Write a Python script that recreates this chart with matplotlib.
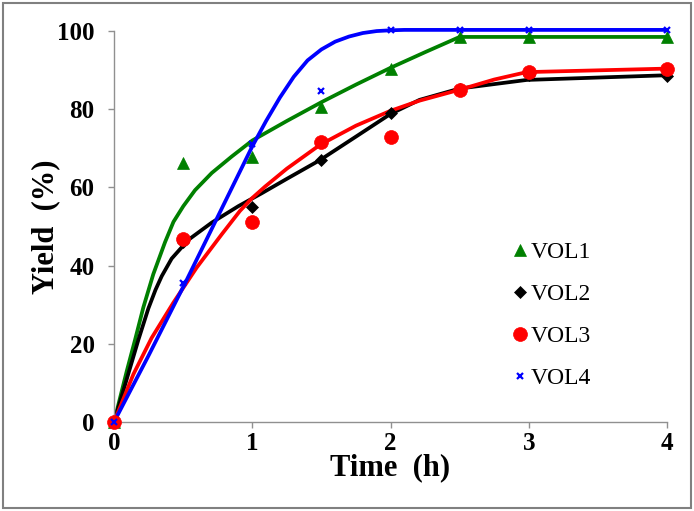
import matplotlib
matplotlib.use("Agg")
import matplotlib.pyplot as plt
from matplotlib.lines import Line2D
from matplotlib.patches import Rectangle

# measured points
t_pts = [0, 0.5, 1, 1.5, 2, 2.5, 3, 4]
vol1_pts = [0, 66.2, 67.9, 80.5, 90.2, 98.5, 98.5, 98.5]
vol2_pts = [0, 46.1, 55.1, 67.0, 79.0, 85.2, 88.7, 88.6]
vol3_pts = [0, 46.8, 51.1, 71.7, 72.8, 85.0, 89.6, 90.4]
vol4_pts = [0, 35.5, 71.0, 84.7, 100.2, 100.2, 100.2, 100.2]

# model curves
vol1_fit_t = [0, 0.092, 0.152, 0.212, 0.284, 0.369, 0.43, 0.501, 0.586, 0.707, 0.851,
              1.0, 1.25, 1.5, 1.75, 2.0, 2.25, 2.5, 3, 4]
vol1_fit_y = [0, 13.0, 21.0, 29.3, 37.8, 46.0, 51.2, 55.2, 59.3, 63.7, 67.9,
              72.0, 77.0, 81.8, 86.3, 90.6, 94.6, 98.5, 98.5, 98.5]
vol2_fit_t = [0, 0.104, 0.176, 0.248, 0.3, 0.345, 0.417, 0.538, 0.707, 0.899, 1.068,
              1.25, 1.49, 1.75, 2.0, 2.21, 2.5, 2.985, 4.0]
vol2_fit_y = [0, 12.4, 21.0, 29.0, 33.8, 37.3, 41.8, 46.6, 51.0, 55.2, 58.5,
              62.2, 67.0, 73.0, 78.8, 82.4, 85.3, 87.5, 88.7]
vol3_fit_t = [0, 0.14, 0.272, 0.429, 0.598, 0.779, 0.911, 1.0, 1.092, 1.25, 1.49,
              1.75, 2.0, 2.21, 2.5, 2.75, 2.985, 4.0]
vol3_fit_y = [0, 12.2, 21.5, 30.5, 39.5, 48.0, 54.0, 57.3, 60.2, 64.8, 70.9,
              75.8, 79.6, 82.2, 85.0, 87.6, 89.5, 90.4]
vol4_fit_t = [0, 0.25, 0.514, 0.75, 1.0, 1.1, 1.2, 1.3, 1.4, 1.5, 1.6, 1.7, 1.8, 1.9,
              2.0, 2.1, 4.0]
vol4_fit_y = [0, 17.0, 35.5, 52.5, 70.5, 77.0, 83.0, 88.3, 92.5, 95.3, 97.3, 98.6,
              99.5, 100.0, 100.2, 100.3, 100.3]

labels = ["VOL1", "VOL2", "VOL3", "VOL4"]
colors = ["#008000", "#000000", "#ff0000", "#0000ff"]
markers = ["^", "D", "o", "x"]
msizes = [9, 6.5, 10, 4]

plt.rcParams["font.family"] = ["Liberation Serif", "DejaVu Serif"]

fig = plt.figure(figsize=(6.94, 5.11), dpi=100)
ax = fig.add_axes([0.1643, 0.1742, 0.7968, 0.765])

fits = [(vol1_fit_t, vol1_fit_y), (vol2_fit_t, vol2_fit_y),
        (vol3_fit_t, vol3_fit_y), (vol4_fit_t, vol4_fit_y)]
pts = [vol1_pts, vol2_pts, vol3_pts, vol4_pts]

for (ft, fy), p, c, m, ms in zip(fits, pts, colors, markers, msizes):
    ax.plot(ft, fy, color=c, lw=2.7, clip_on=False, solid_joinstyle="round")
    ax.plot(t_pts, p, linestyle="none", marker=m, color=c, ms=ms,
            mew=1.6 if m == "x" else 0.5, clip_on=False, zorder=3)

ax.set_xlim(0, 4)
ax.set_ylim(0, 100)
ax.set_xticks([0, 1, 2, 3, 4])
ax.set_yticks([0, 20, 40, 60, 80, 100])
for s in ["top", "right"]:
    ax.spines[s].set_visible(False)
for s in ["left", "bottom"]:
    ax.spines[s].set_color("#909090")
    ax.spines[s].set_linewidth(1.0)
ax.tick_params(direction="out", length=4, color="#909090", width=1.0, labelsize=18)
ax.tick_params(axis="x", pad=3)
ax.tick_params(axis="y", pad=10)
for lab in ax.get_xticklabels() + ax.get_yticklabels():
    lab.set_fontweight("bold")

ax.set_xlabel("Time  (h)", fontsize=22, fontweight="bold", labelpad=-1)
ax.set_ylabel("Yield  (%)", fontsize=22, fontweight="bold", labelpad=-2)

handles = [Line2D([], [], linestyle="none", marker=m, color=c, ms=ms,
                  mew=1.6 if m == "x" else 0.5)
           for c, m, ms in zip(colors, markers, msizes)]
ax.legend(handles, labels, loc="upper left", bbox_to_anchor=(0.683, 0.515),
          frameon=False, fontsize=17, handlelength=0.6, handletextpad=0.15,
          labelspacing=0.86)

fig.patches.append(Rectangle((0.004, 0.006), 0.992, 0.988, transform=fig.transFigure,
                             fill=False, edgecolor="#808080", lw=1.5))

fig.savefig("out.png", dpi=100)
